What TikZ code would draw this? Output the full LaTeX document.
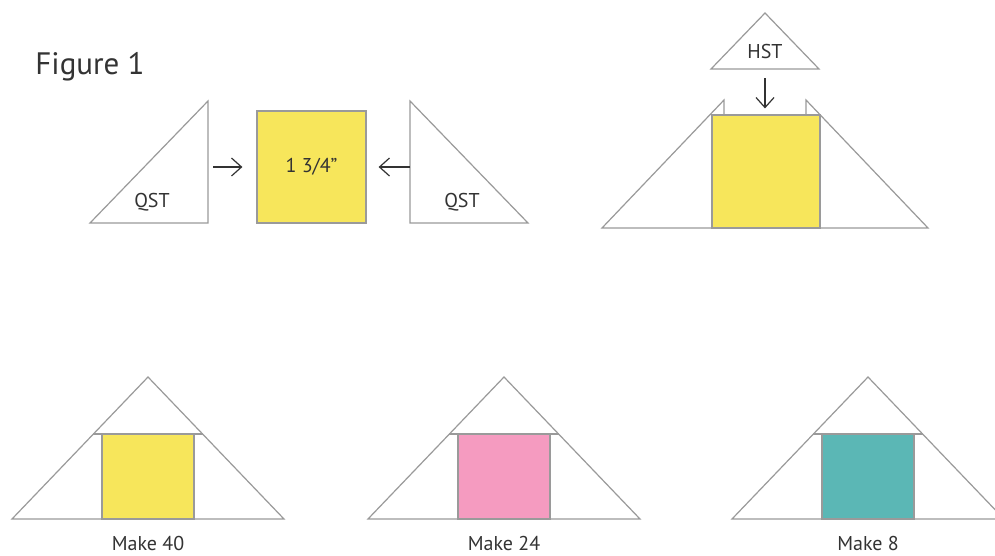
\documentclass[tikz,border=0pt]{standalone}
\usepackage{fontspec}
\setmainfont{PT Sans}
\usetikzlibrary{arrows.meta}

\definecolor{quiltyellow}{HTML}{F7E65B}
\definecolor{quiltpink}{HTML}{F59BC0}
\definecolor{quiltteal}{HTML}{5BB7B5}
\definecolor{seam}{HTML}{9A9A9A}
\definecolor{ink}{HTML}{333333}

\tikzset{
  piece/.style={draw=seam, line width=1.2pt, fill=white},
  block/.style={draw=seam, line width=1.2pt, rectangle, inner sep=0pt},
  lbl/.style={font=\fontsize{20}{24}\selectfont, text=ink},
  push/.style={-{Straight Barb[length=10pt,width=18pt]}, line width=1.2pt, draw=ink},
}

\begin{document}
\begin{tikzpicture}[x=1pt, y=-1pt]
          \clip (0,0) rectangle (995,555);
          \fill[white] (0,0) rectangle (995,555);

          \node[font=\fontsize{31}{36}\selectfont, text=ink] (title) at (90, 67) {Figure 1};

          % top left: QST + square + QST
          \draw[piece] (90, 223) -- (208, 101) -- (208, 223) -- cycle;
          \draw[piece] (410, 101) -- (410, 223) -- (528, 223) -- cycle;
          \node[lbl] (qstl) at (152, 202) {QST};
          \node[lbl] (qstr) at (462, 202) {QST};

          \node[block, fill=quiltyellow, minimum width=109pt, minimum height=112pt, lbl] (sq) at (311.5, 167) {1 3/4\rlap{\textquotedblright}\hphantom{\textquotedblright}};
          \coordinate (al) at (213, 167);
          \coordinate (ar) at (410, 167);
          \draw[push, shorten >=14pt] (al) to (sq.west);
          \draw[push, shorten >=12pt] (ar) to (sq.east);

          % top right: HST on top of the unit
          \draw[piece] (711, 69) -- (765, 13) -- (819, 69) -- cycle;
          \node[lbl] (hst) at (765, 51) {HST};
          \draw[piece] (602, 228) -- (724, 100) -- (724, 228) -- cycle;
          \draw[piece] (806, 100) -- (806, 228) -- (928, 228) -- cycle;
          \node[block, fill=quiltyellow, minimum width=108pt, minimum height=113pt] (unit) at (766, 171.5) {};
          \coordinate (ah) at (765, 78);
          \draw[push, shorten >=6pt] (ah) to (unit.north -| ah);

          % bottom row
          \foreach \cx/\col/\num in {148/quiltyellow/40, 504/quiltpink/24, 868/quiltteal/8} {
            \draw[piece] (\cx-136, 519) -- (\cx, 377) -- (\cx+136, 519) -- cycle;
            \draw[draw=seam, line width=1.2pt] (\cx-55, 434) -- (\cx+55, 434);
            \node[block, fill=\col, minimum width=92pt, minimum height=85pt] (sq\num) at (\cx, 476.5) {};
            \node[lbl] (make\num) at (\cx, 543) {Make \num};
          }
        \end{tikzpicture}
\end{document}
